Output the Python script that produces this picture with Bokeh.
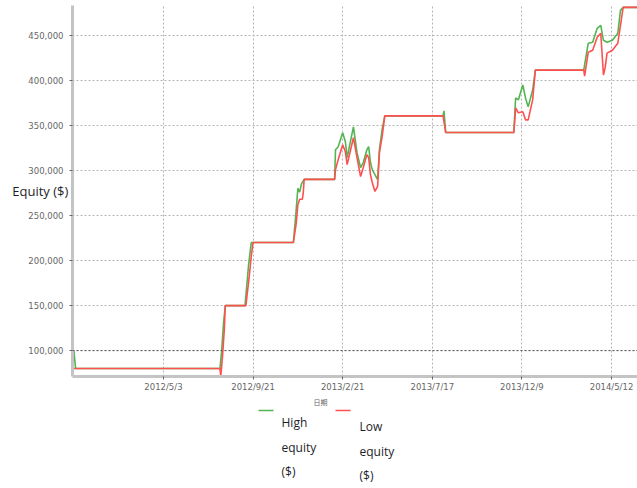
from bokeh.plotting import figure
from bokeh.models import Range1d, FixedTicker, NumeralTickFormatter, Span
from bokeh.layouts import column
from bokeh.embed import file_html
from bokeh.resources import INLINE
from bokeh.core.properties import value

# ---------------- data ----------------
tick_days = [100, 200, 300, 400, 500, 600]
tick_labels = ["2012/5/3", "2012/9/21", "2013/2/21", "2013/7/17", "2013/12/9", "2014/5/12"]
equity_ticks = [100000, 150000, 200000, 250000, 300000, 350000, 400000, 450000]
initial_capital = 100000

series_names = ["High equity ($)", "Low equity ($)"]
x_axis_title = "日期"
y_axis_title = "Equity ($)"

high_day = [0, 2, 163, 165, 167, 169, 191, 195, 198, 245, 248, 250, 252, 254, 257,
            291, 292, 295, 300, 303, 305, 312, 316, 320, 323, 327, 329, 331, 333, 336,
            339, 341, 344, 347, 412, 413, 415, 491, 493, 496, 501, 504, 507, 512, 515,
            569, 574, 579, 584, 588, 591, 595, 601, 607, 610, 613, 629]
high_equity = [100000, 80100, 80100, 100000, 130000, 150000, 150000, 195000, 220000,
               220000, 255000, 280000, 276000, 285000, 290000,
               290000, 323000, 326300, 341800, 331800, 314200, 348400, 319700, 303100,
               308700, 323000, 326300, 308700, 300900, 295400,
               289900, 323000, 345100, 360500, 360500, 366000, 342000, 342000, 380400,
               378200, 394800, 380400, 370500, 389200, 411300,
               411300, 441100, 442200, 457700, 461000, 444400, 442200, 444400, 452200,
               477600, 480900, 480900]

low_day = [0, 163, 164, 166, 168, 169, 192, 196, 198, 200, 245, 248, 250, 252, 255, 256,
           257, 291, 292, 295, 300, 303, 305, 312, 316, 320, 323, 327, 329, 331, 333,
           336, 339, 341, 344, 347, 412, 415, 491, 493, 496, 501, 504, 507, 512, 515,
           569, 570, 574, 579, 584, 588, 591, 593, 595, 601, 607, 612, 613, 629]
low_equity = [80100, 80100, 72000, 95000, 125000, 150000, 150000, 185000, 205000, 220000,
              220000, 240000, 262000, 268000, 268000, 275000,
              290000, 290000, 301000, 312000, 328500, 320800, 306500, 336300, 314200,
              293200, 303100, 317500, 314200, 295400, 286600,
              276600, 282200, 319700, 337400, 360500, 360500, 342000, 342000, 369400,
              363900, 365000, 356100, 356100, 378200, 411300,
              411300, 404700, 431200, 433400, 447800, 452200, 405800, 414600, 430100,
              433400, 441100, 474300, 480900, 480900]

GREEN = "#52b552"
RED = "#ff5050"
TICK_FONT = "DejaVu Sans"
TEXT_FONT = "Open Sans"

# ---------------- main chart ----------------
p = figure(width=637, height=394, output_backend="svg", toolbar_location=None,
           x_range=Range1d(-1.5, 629), y_range=Range1d(71300, 483000),
           min_border_left=72, min_border_right=0, min_border_top=5, min_border_bottom=16)
p.outline_line_color = None
p.background_fill_color = "white"
p.border_fill_color = "white"

p.xaxis.ticker = FixedTicker(ticks=tick_days)
p.xaxis.major_label_overrides = {d: lab for d, lab in zip(tick_days, tick_labels)}
p.yaxis.ticker = FixedTicker(ticks=equity_ticks)
p.yaxis.formatter = NumeralTickFormatter(format="0,0")

for ax in (p.xaxis, p.yaxis):
    ax.axis_line_color = "#c4c4c4"
    ax.axis_line_width = 3
    ax.major_tick_line_color = "#666666"
    ax.major_tick_out = 3
    ax.major_tick_in = 0
    ax.minor_tick_line_color = None
    ax.major_label_text_font = TICK_FONT
    ax.major_label_text_font_size = "8.5px"
    ax.major_label_text_color = "#666666"
p.xaxis.major_label_standoff = 2
p.yaxis.major_label_standoff = 6

# horizontal y-axis title laid over the tick-label column
p.yaxis.axis_label = y_axis_title
p.yaxis.axis_label_orientation = "horizontal"
p.yaxis.axis_label_standoff = -43
p.yaxis.axis_label_text_font = TEXT_FONT
p.yaxis.axis_label_text_font_size = "13px"
p.yaxis.axis_label_text_font_style = "normal"
p.yaxis.axis_label_text_color = "#1e1e2a"

for g in (p.xgrid, p.ygrid):
    g.grid_line_color = "#b4b4b4"
    g.grid_line_dash = "2 2"
    g.grid_line_width = 1

p.add_layout(Span(location=initial_capital, dimension="width", line_color="#555555",
                  line_dash="2 2", line_width=1))

p.line(high_day, high_equity, line_color=GREEN, line_width=1.6)
p.line(low_day, low_equity, line_color=RED, line_width=1.6)

# ---------------- legend / x title strip ----------------
# (the column aligns this strip's frame with the chart frame: page x 72..637)
q = figure(width=637, height=94, output_backend="svg", toolbar_location=None,
           x_range=Range1d(72, 637), y_range=Range1d(488, 394),
           x_axis_location=None, y_axis_location=None,
           min_border=0, min_border_left=0, min_border_right=0,
           min_border_top=0, min_border_bottom=0)
q.grid.visible = False
q.outline_line_color = None

q.text(x=[320], y=[401], text=[x_axis_title], text_font=value("Noto Sans CJK SC"),
       text_font_size="7px", text_color="#666666", text_align="center",
       text_baseline="middle")

legend_colors = [GREEN, RED]
legend_x = [258, 335]
legend_text_x = [281, 359]
legend_text_y0 = [422, 426]
for name, col, lx, tx, ty in zip(series_names, legend_colors, legend_x, legend_text_x, legend_text_y0):
    q.segment(x0=[lx], y0=[410], x1=[lx + 15], y1=[410], line_color=col, line_width=1.6)
    words = name.split()
    q.text(x=[tx] * len(words), y=[ty + 24.5 * i for i in range(len(words))], text=words,
           text_font=value(TEXT_FONT), text_font_size="12px", text_color="#1e1e2a",
           text_align="left", text_baseline="middle")

layout = column(p, q, spacing=0)
open("out.html", "w").write(file_html(layout, INLINE))
